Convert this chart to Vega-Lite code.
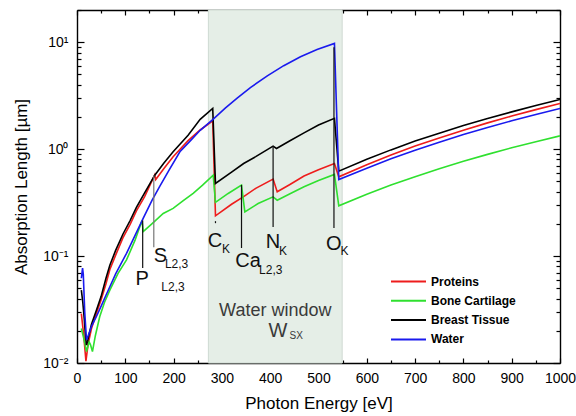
{
  "$schema": "https://vega.github.io/schema/vega-lite/v6.json",
  "width": 483,
  "height": 353,
  "autosize": "none",
  "padding": {"left": 77, "top": 10, "right": 16, "bottom": 53},
  "config": {
    "font": "Liberation Sans",
    "view": {"stroke": null},
    "axis": {"grid": false, "domainColor": "#000", "domainWidth": 1.4, "tickColor": "#000", "tickWidth": 1.2, "labelColor": "#000", "titleColor": "#000", "labelFont": "Liberation Sans", "titleFont": "Liberation Sans", "titleFontWeight": "normal", "labelOverlap": false, "labelFlush": false}
  },
  "datasets": {
    "curves": [
      {"E": 9, "v": 0.029, "s": "Proteins"}, {"E": 14, "v": 0.018, "s": "Proteins"}, {"E": 18.5, "v": 0.0104, "s": "Proteins"}, {"E": 23, "v": 0.015, "s": "Proteins"}, {"E": 30, "v": 0.021, "s": "Proteins"}, {"E": 40, "v": 0.029, "s": "Proteins"}, {"E": 50, "v": 0.039, "s": "Proteins"}, {"E": 60, "v": 0.055, "s": "Proteins"}, {"E": 68, "v": 0.075, "s": "Proteins"}, {"E": 80, "v": 0.102, "s": "Proteins"}, {"E": 95, "v": 0.148, "s": "Proteins"}, {"E": 110, "v": 0.198, "s": "Proteins"}, {"E": 123, "v": 0.265, "s": "Proteins"}, {"E": 140, "v": 0.36, "s": "Proteins"}, {"E": 161, "v": 0.575, "s": "Proteins"}, {"E": 163, "v": 0.52, "s": "Proteins"}, {"E": 180, "v": 0.66, "s": "Proteins"}, {"E": 199, "v": 0.85, "s": "Proteins"}, {"E": 230, "v": 1.2, "s": "Proteins"}, {"E": 255, "v": 1.51, "s": "Proteins"}, {"E": 281, "v": 1.84, "s": "Proteins"}, {"E": 286.7, "v": 0.238, "s": "Proteins"}, {"E": 320, "v": 0.305, "s": "Proteins"}, {"E": 345, "v": 0.36, "s": "Proteins"}, {"E": 370, "v": 0.43, "s": "Proteins"}, {"E": 406, "v": 0.525, "s": "Proteins"}, {"E": 414.5, "v": 0.399, "s": "Proteins"}, {"E": 440, "v": 0.465, "s": "Proteins"}, {"E": 470, "v": 0.56, "s": "Proteins"}, {"E": 500, "v": 0.64, "s": "Proteins"}, {"E": 533, "v": 0.734, "s": "Proteins"}, {"E": 542, "v": 0.551, "s": "Proteins"}, {"E": 600, "v": 0.716, "s": "Proteins"}, {"E": 650, "v": 0.881, "s": "Proteins"}, {"E": 700, "v": 1.07, "s": "Proteins"}, {"E": 750, "v": 1.27, "s": "Proteins"}, {"E": 800, "v": 1.5, "s": "Proteins"}, {"E": 850, "v": 1.76, "s": "Proteins"}, {"E": 900, "v": 2.04, "s": "Proteins"}, {"E": 950, "v": 2.34, "s": "Proteins"}, {"E": 1000, "v": 2.67, "s": "Proteins"},

      {"E": 9, "v": 0.021, "s": "Bone Cartilage"}, {"E": 14, "v": 0.017, "s": "Bone Cartilage"}, {"E": 19.7, "v": 0.0128, "s": "Bone Cartilage"}, {"E": 25, "v": 0.0158, "s": "Bone Cartilage"}, {"E": 28, "v": 0.0148, "s": "Bone Cartilage"}, {"E": 32, "v": 0.0128, "s": "Bone Cartilage"}, {"E": 38, "v": 0.018, "s": "Bone Cartilage"}, {"E": 47, "v": 0.0271, "s": "Bone Cartilage"}, {"E": 57, "v": 0.037, "s": "Bone Cartilage"}, {"E": 68, "v": 0.048, "s": "Bone Cartilage"}, {"E": 85, "v": 0.069, "s": "Bone Cartilage"}, {"E": 102.5, "v": 0.092, "s": "Bone Cartilage"}, {"E": 120, "v": 0.14, "s": "Bone Cartilage"}, {"E": 134.6, "v": 0.215, "s": "Bone Cartilage"}, {"E": 137, "v": 0.169, "s": "Bone Cartilage"}, {"E": 155, "v": 0.2, "s": "Bone Cartilage"}, {"E": 178.5, "v": 0.25, "s": "Bone Cartilage"}, {"E": 199, "v": 0.279, "s": "Bone Cartilage"}, {"E": 220, "v": 0.33, "s": "Bone Cartilage"}, {"E": 240.5, "v": 0.386, "s": "Bone Cartilage"}, {"E": 260, "v": 0.46, "s": "Bone Cartilage"}, {"E": 282, "v": 0.571, "s": "Bone Cartilage"}, {"E": 286.7, "v": 0.318, "s": "Bone Cartilage"}, {"E": 313, "v": 0.385, "s": "Bone Cartilage"}, {"E": 340.6, "v": 0.461, "s": "Bone Cartilage"}, {"E": 347.5, "v": 0.259, "s": "Bone Cartilage"}, {"E": 375, "v": 0.31, "s": "Bone Cartilage"}, {"E": 406, "v": 0.358, "s": "Bone Cartilage"}, {"E": 414.5, "v": 0.333, "s": "Bone Cartilage"}, {"E": 440, "v": 0.38, "s": "Bone Cartilage"}, {"E": 470, "v": 0.445, "s": "Bone Cartilage"}, {"E": 500, "v": 0.51, "s": "Bone Cartilage"}, {"E": 533, "v": 0.58, "s": "Bone Cartilage"}, {"E": 542, "v": 0.295, "s": "Bone Cartilage"}, {"E": 600, "v": 0.379, "s": "Bone Cartilage"}, {"E": 650, "v": 0.461, "s": "Bone Cartilage"}, {"E": 700, "v": 0.553, "s": "Bone Cartilage"}, {"E": 750, "v": 0.656, "s": "Bone Cartilage"}, {"E": 800, "v": 0.769, "s": "Bone Cartilage"}, {"E": 850, "v": 0.893, "s": "Bone Cartilage"}, {"E": 900, "v": 1.03, "s": "Bone Cartilage"}, {"E": 950, "v": 1.17, "s": "Bone Cartilage"}, {"E": 1000, "v": 1.33, "s": "Bone Cartilage"},

      {"E": 9, "v": 0.048, "s": "Breast Tissue"}, {"E": 12, "v": 0.037, "s": "Breast Tissue"}, {"E": 15, "v": 0.026, "s": "Breast Tissue"}, {"E": 17.5, "v": 0.018, "s": "Breast Tissue"}, {"E": 19.5, "v": 0.0147, "s": "Breast Tissue"}, {"E": 22, "v": 0.016, "s": "Breast Tissue"}, {"E": 25, "v": 0.0185, "s": "Breast Tissue"}, {"E": 30, "v": 0.023, "s": "Breast Tissue"}, {"E": 40, "v": 0.031, "s": "Breast Tissue"}, {"E": 50, "v": 0.042, "s": "Breast Tissue"}, {"E": 60, "v": 0.062, "s": "Breast Tissue"}, {"E": 68, "v": 0.082, "s": "Breast Tissue"}, {"E": 80, "v": 0.113, "s": "Breast Tissue"}, {"E": 95, "v": 0.16, "s": "Breast Tissue"}, {"E": 110, "v": 0.215, "s": "Breast Tissue"}, {"E": 123, "v": 0.285, "s": "Breast Tissue"}, {"E": 140, "v": 0.39, "s": "Breast Tissue"}, {"E": 161, "v": 0.571, "s": "Breast Tissue"}, {"E": 180, "v": 0.74, "s": "Breast Tissue"}, {"E": 199, "v": 0.944, "s": "Breast Tissue"}, {"E": 230, "v": 1.35, "s": "Breast Tissue"}, {"E": 255, "v": 1.9, "s": "Breast Tissue"}, {"E": 281, "v": 2.4, "s": "Breast Tissue"}, {"E": 286.7, "v": 0.477, "s": "Breast Tissue"}, {"E": 320, "v": 0.61, "s": "Breast Tissue"}, {"E": 345, "v": 0.734, "s": "Breast Tissue"}, {"E": 370, "v": 0.85, "s": "Breast Tissue"}, {"E": 406, "v": 1.067, "s": "Breast Tissue"}, {"E": 413, "v": 1.015, "s": "Breast Tissue"}, {"E": 440, "v": 1.19, "s": "Breast Tissue"}, {"E": 470, "v": 1.42, "s": "Breast Tissue"}, {"E": 500, "v": 1.68, "s": "Breast Tissue"}, {"E": 533, "v": 1.94, "s": "Breast Tissue"}, {"E": 542, "v": 0.622, "s": "Breast Tissue"}, {"E": 600, "v": 0.803, "s": "Breast Tissue"}, {"E": 650, "v": 0.984, "s": "Breast Tissue"}, {"E": 700, "v": 1.19, "s": "Breast Tissue"}, {"E": 750, "v": 1.41, "s": "Breast Tissue"}, {"E": 800, "v": 1.66, "s": "Breast Tissue"}, {"E": 850, "v": 1.93, "s": "Breast Tissue"}, {"E": 900, "v": 2.23, "s": "Breast Tissue"}, {"E": 950, "v": 2.56, "s": "Breast Tissue"}, {"E": 1000, "v": 2.91, "s": "Breast Tissue"},

      {"E": 9, "v": 0.062, "s": "Water"}, {"E": 11.5, "v": 0.077, "s": "Water"}, {"E": 13, "v": 0.068, "s": "Water"}, {"E": 16, "v": 0.03, "s": "Water"}, {"E": 19.7, "v": 0.0164, "s": "Water"}, {"E": 25, "v": 0.019, "s": "Water"}, {"E": 30, "v": 0.022, "s": "Water"}, {"E": 40, "v": 0.0271, "s": "Water"}, {"E": 50, "v": 0.034, "s": "Water"}, {"E": 60, "v": 0.043, "s": "Water"}, {"E": 68, "v": 0.0516, "s": "Water"}, {"E": 80, "v": 0.068, "s": "Water"}, {"E": 102.5, "v": 0.106, "s": "Water"}, {"E": 120, "v": 0.155, "s": "Water"}, {"E": 137, "v": 0.225, "s": "Water"}, {"E": 155, "v": 0.33, "s": "Water"}, {"E": 171, "v": 0.445, "s": "Water"}, {"E": 190, "v": 0.63, "s": "Water"}, {"E": 213, "v": 0.944, "s": "Water"}, {"E": 235, "v": 1.2, "s": "Water"}, {"E": 255, "v": 1.5, "s": "Water"}, {"E": 281, "v": 1.89, "s": "Water"}, {"E": 307.5, "v": 2.43, "s": "Water"}, {"E": 331.6, "v": 3.0, "s": "Water"}, {"E": 359, "v": 3.76, "s": "Water"}, {"E": 394, "v": 4.85, "s": "Water"}, {"E": 428, "v": 6.03, "s": "Water"}, {"E": 462.7, "v": 7.3, "s": "Water"}, {"E": 497, "v": 8.53, "s": "Water"}, {"E": 533, "v": 9.73, "s": "Water"}, {"E": 542, "v": 0.52, "s": "Water"}, {"E": 600, "v": 0.662, "s": "Water"}, {"E": 650, "v": 0.811, "s": "Water"}, {"E": 700, "v": 0.977, "s": "Water"}, {"E": 750, "v": 1.16, "s": "Water"}, {"E": 800, "v": 1.37, "s": "Water"}, {"E": 850, "v": 1.59, "s": "Water"}, {"E": 900, "v": 1.84, "s": "Water"}, {"E": 950, "v": 2.11, "s": "Water"}, {"E": 1000, "v": 2.4, "s": "Water"}
    ],
    "window": [{"E1": 272, "E2": 549}],
    "edges": [
      {"edge": "P", "E": 136, "v1": 0.215, "v2": 0.0773},
      {"edge": "S", "E": 159, "v1": 0.571, "v2": 0.121},
      {"edge": "C", "E": 286.7, "v1": 0.212, "v2": 0.199},
      {"edge": "Ca", "E": 340.6, "v1": 0.461, "v2": 0.119},
      {"edge": "N", "E": 406, "v1": 1.067, "v2": 0.187},
      {"edge": "O", "E": 532, "v1": 8.98, "v2": 0.183}
    ],
    "labels": [
      {"role": "main", "t": "P", "E": 135, "v": 0.0536},
      {"role": "sub", "t": "L2,3", "E": 174.5, "v": 0.0474},
      {"role": "main", "t": "S", "E": 172.5, "v": 0.0885},
      {"role": "sub", "t": "L2,3", "E": 182, "v": 0.0767},
      {"role": "main", "t": "C", "E": 285.7, "v": 0.122},
      {"role": "sub", "t": "K", "E": 300, "v": 0.106},
      {"role": "main", "t": "Ca", "E": 354, "v": 0.0794},
      {"role": "sub", "t": "L2,3", "E": 377, "v": 0.0679},
      {"role": "main", "t": "N", "E": 405.8, "v": 0.118},
      {"role": "sub", "t": "K", "E": 418, "v": 0.102},
      {"role": "main", "t": "O", "E": 531.7, "v": 0.1137},
      {"role": "sub", "t": "K", "E": 545.5, "v": 0.102},
      {"role": "win", "t": "Water window", "E": 410.5, "v": 0.0275},
      {"role": "winW", "t": "W", "E": 416, "v": 0.0176},
      {"role": "winsub", "t": "SX", "E": 440, "v": 0.01664}
    ]
  },
  "layer": [
    {
      "data": {"name": "window"},
      "mark": {"type": "rect", "fill": "#e5eee7", "stroke": "#cfdad2", "strokeWidth": 1},
      "encoding": {
        "x": {"field": "E1", "type": "quantitative", "axis": null},
        "x2": {"field": "E2"}
      }
    },
    {
      "data": {"name": "curves"},
      "mark": {"type": "line", "strokeWidth": 1.6, "clip": true},
      "encoding": {
        "x": {"field": "E", "type": "quantitative",
          "scale": {"domain": [0, 1000], "nice": false, "zero": false},
          "axis": {"orient": "bottom", "title": "Photon Energy [eV]", "titleFontSize": 17, "titlePadding": 8, "format": "d",
            "values": [0,50,100,150,200,250,300,350,400,450,500,550,600,650,700,750,800,850,900,950,1000],
            "labelExpr": "datum.value % 100 === 0 ? datum.label : ''",
            "labelFontSize": 14, "labelPadding": 13,
            "tickSize": {"condition": {"test": "datum.value % 100 === 0", "value": -5}, "value": -3}}},
        "y": {"field": "v", "type": "quantitative",
          "scale": {"type": "log", "domain": [0.01, 20], "nice": false},
          "axis": {"orient": "left", "title": "Absorption Length [µm]", "titleFontSize": 17, "titlePadding": 12,
            "values": [0.01,0.02,0.03,0.04,0.05,0.06,0.07,0.08,0.09,0.1,0.2,0.3,0.4,0.5,0.6,0.7,0.8,0.9,1,2,3,4,5,6,7,8,9,10,20],
            "labelExpr": "abs(log(datum.value)/LN10 - round(log(datum.value)/LN10)) < 0.001 ? ('10' + (round(log(datum.value)/LN10) == -2 ? '⁻²' : round(log(datum.value)/LN10) == -1 ? '⁻¹' : round(log(datum.value)/LN10) == 0 ? '⁰' : '¹')) : ''",
            "labelFontSize": 14, "labelPadding": 16,
            "tickSize": {"condition": {"test": "abs(log(datum.value)/LN10 - round(log(datum.value)/LN10)) < 0.001", "value": -7}, "value": -4}}},
        "color": {"field": "s", "type": "nominal",
          "scale": {"domain": ["Proteins", "Bone Cartilage", "Breast Tissue", "Water"], "range": ["#ee1c1c", "#2fe02f", "#000000", "#1a1aee"]},
          "legend": {"orient": "none", "legendX": 313, "legendY": 263, "title": null, "symbolType": "stroke", "symbolSize": 1225, "symbolStrokeWidth": 2, "clipHeight": 17, "rowPadding": 2.3, "labelFontSize": 12, "labelFontWeight": "bold", "labelOffset": 4, "labelColor": "#000", "padding": 0}}
      }
    },
    {
      "data": {"name": "edges"},
      "mark": {"type": "rule", "strokeWidth": 1.2},
      "encoding": {
        "x": {"field": "E", "type": "quantitative",
          "axis": {"orient": "top", "title": null, "labels": false,
            "values": [0,50,100,150,200,250,300,350,400,450,500,550,600,650,700,750,800,850,900,950,1000],
            "tickSize": {"condition": {"test": "datum.value % 100 === 0", "value": -5}, "value": -3}}},
        "y": {"field": "v1", "type": "quantitative",
          "axis": {"orient": "right", "title": null, "labels": false,
            "values": [0.01,0.02,0.03,0.04,0.05,0.06,0.07,0.08,0.09,0.1,0.2,0.3,0.4,0.5,0.6,0.7,0.8,0.9,1,2,3,4,5,6,7,8,9,10,20],
            "tickSize": {"condition": {"test": "abs(log(datum.value)/LN10 - round(log(datum.value)/LN10)) < 0.001", "value": -7}, "value": -4}}},
        "y2": {"field": "v2"},
        "color": {"condition": {"test": "datum.edge === 'S'", "value": "#777"}, "value": "#111"},
        "strokeDash": {"condition": {"test": "datum.edge === 'C'", "value": [2, 1]}, "value": [1, 0]}
      }
    },
    {
      "data": {"name": "labels"},
      "transform": [{"filter": "datum.role === 'main'"}],
      "mark": {"type": "text", "fontSize": 20, "align": "center", "baseline": "alphabetic", "color": "#111"},
      "encoding": {
        "x": {"field": "E", "type": "quantitative", "axis": null},
        "y": {"field": "v", "type": "quantitative", "axis": null},
        "text": {"field": "t"}
      }
    },
    {
      "data": {"name": "labels"},
      "transform": [{"filter": "datum.role === 'sub'"}],
      "mark": {"type": "text", "fontSize": 12, "align": "left", "baseline": "alphabetic", "color": "#111"},
      "encoding": {
        "x": {"field": "E", "type": "quantitative", "axis": null},
        "y": {"field": "v", "type": "quantitative", "axis": null},
        "text": {"field": "t"}
      }
    },
    {
      "data": {"name": "labels"},
      "transform": [{"filter": "datum.role === 'win'"}],
      "mark": {"type": "text", "fontSize": 18, "align": "center", "baseline": "alphabetic", "color": "#3a3a3a"},
      "encoding": {
        "x": {"field": "E", "type": "quantitative", "axis": null},
        "y": {"field": "v", "type": "quantitative", "axis": null},
        "text": {"field": "t"}
      }
    },
    {
      "data": {"name": "labels"},
      "transform": [{"filter": "datum.role === 'winW'"}],
      "mark": {"type": "text", "fontSize": 20, "align": "center", "baseline": "alphabetic", "color": "#3a3a3a"},
      "encoding": {
        "x": {"field": "E", "type": "quantitative", "axis": null},
        "y": {"field": "v", "type": "quantitative", "axis": null},
        "text": {"field": "t"}
      }
    },
    {
      "data": {"name": "labels"},
      "transform": [{"filter": "datum.role === 'winsub'"}],
      "mark": {"type": "text", "fontSize": 10, "align": "left", "baseline": "alphabetic", "color": "#3a3a3a"},
      "encoding": {
        "x": {"field": "E", "type": "quantitative", "axis": null},
        "y": {"field": "v", "type": "quantitative", "axis": null},
        "text": {"field": "t"}
      }
    }
  ]
}
